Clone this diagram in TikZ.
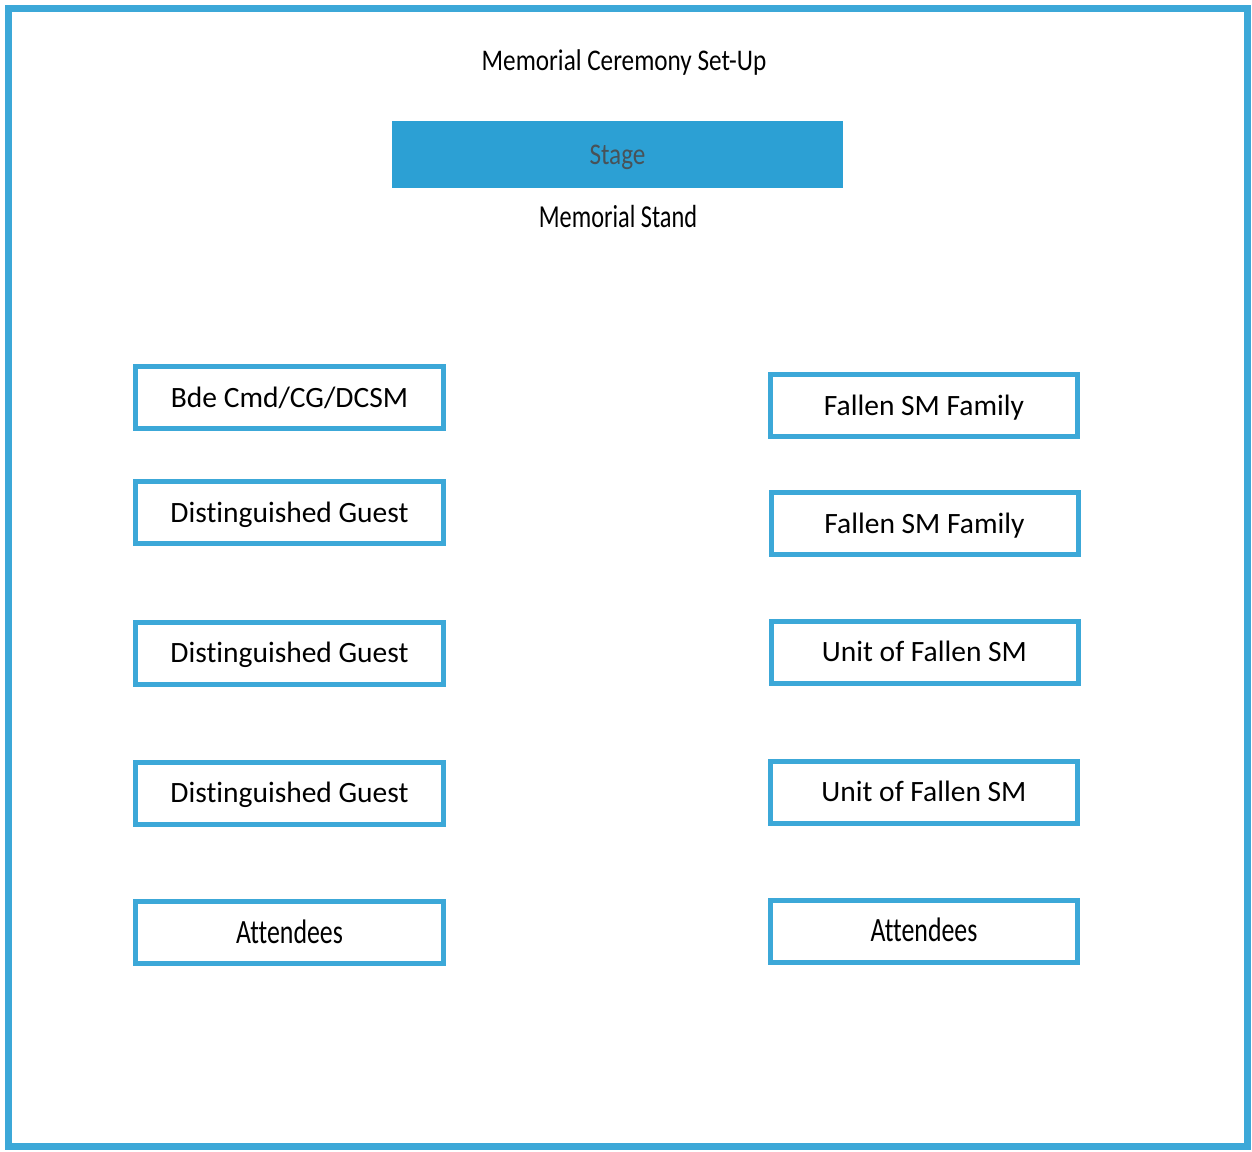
\documentclass[tikz,border=0pt]{standalone}
\usepackage{fontspec}
\setmainfont{Carlito}[Ligatures=NoCommon]
\newfontfamily\narrowfont{Carlito}[FakeStretch=0.84,Ligatures=NoCommon]
\newfontfamily\narrowerfont{Carlito}[FakeStretch=0.76,Ligatures=NoCommon]
\definecolor{boxblue}{RGB}{60,168,216}
\definecolor{stagefill}{RGB}{44,160,212}
\definecolor{stagetext}{RGB}{72,82,88}
\tikzset{
  seat/.style={draw=boxblue, line width=5bp, fill=white, minimum width=308bp, minimum height=62bp, inner sep=0pt,
    text height=19bp, text depth=0pt, font=\fontsize{29.5bp}{36bp}\selectfont},
  narrowtxt/.style={font=\narrowfont\fontsize{30bp}{36bp}\selectfont},
  attend/.style={font=\narrowerfont\fontsize{34bp}{40bp}\selectfont, text height=21.9bp},
}
\begin{document}
\begin{tikzpicture}[x=1bp,y=-1bp]
\useasboundingbox (0,0) rectangle (1252,1152);
\draw[boxblue, line width=7bp] (8.5,8.5) rectangle (1247,1146);
\node[narrowtxt] (title) at (624,62) {Memorial Ceremony Set-Up};
\node[fill=stagefill, draw=stagefill, line width=1bp, minimum width=450bp, minimum height=66bp, inner sep=0pt,
  text height=19.3bp, text depth=0pt,
  text=stagetext, font=\narrowfont\fontsize{30bp}{36bp}\selectfont] (stage) at (617.5,154.5) {Stage};
\node[font=\narrowerfont\fontsize{32bp}{38bp}\selectfont, text height=20.6bp, text depth=0pt, inner sep=0pt] (stand) at (618,217) {Memorial Stand};
% left column
\node[seat] (l1) at (289.5,397.5) {Bde Cmd/CG/DCSM};
\node[seat] (l2) at (289.5,512.5) {Distinguished Guest};
\node[seat] (l3) at (289.5,653) {Distinguished Guest};
\node[seat] (l4) at (289.5,793) {Distinguished Guest};
\node[seat, attend] (l5) at (289.5,932.5) {Attendees};
% right column
\node[seat, minimum width=307bp] (r1) at (924,405.5) {Fallen SM Family};
\node[seat, minimum width=307bp] (r2) at (924.5,523.5) {Fallen SM Family};
\node[seat, minimum width=307bp] (r3) at (924.5,652) {Unit of Fallen SM};
\node[seat, minimum width=307bp] (r4) at (924,792) {Unit of Fallen SM};
\node[seat, minimum width=307bp, attend] (r5) at (924,931) {Attendees};
\end{tikzpicture}
\end{document}
